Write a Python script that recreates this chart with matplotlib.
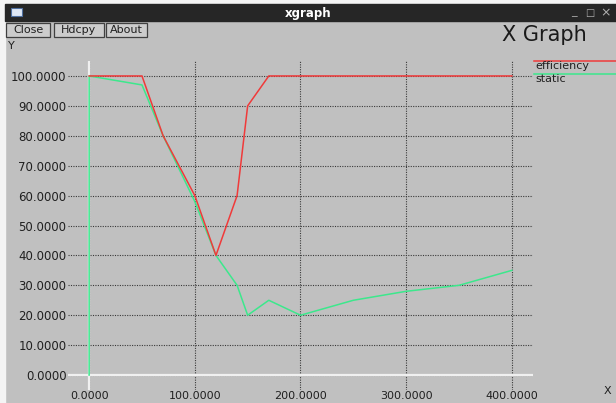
import matplotlib
matplotlib.use('Agg')
import matplotlib.pyplot as plt
from matplotlib.patches import Rectangle
from matplotlib.lines import Line2D

# data
eff_x = [0, 50, 70, 100, 120, 140, 150, 170, 400]
eff_y = [100, 100, 80, 60, 40, 60, 90, 100, 100]
static_x = [0, 0, 50, 70, 100, 120, 140, 150, 170, 200, 250, 300, 350, 400]
static_y = [0, 100, 97, 80, 58, 40, 30, 20, 25, 20, 25, 28, 30, 35]
x_ticks = [0, 100, 200, 300, 400]
y_ticks = [0, 10, 20, 30, 40, 50, 60, 70, 80, 90, 100]
series_names = ['efficiency', 'static']

W, H = 616, 403
BG = '#c0c0c0'
RED = '#f03a3a'
GREEN = '#3ce88c'

def fx(px):
    return px / W

def fy(py):
    return 1 - py / H

fig = plt.figure(figsize=(W / 100, H / 100), dpi=100, facecolor=BG)

# window frame: white margin, dark title bar
fig.patches.append(Rectangle((0, fy(4)), 1, 4 / H, transform=fig.transFigure, color='#f4f4f4', zorder=0))
fig.patches.append(Rectangle((0, 0), fx(5), 1, transform=fig.transFigure, color='#f4f4f4', zorder=0))
fig.patches.append(Rectangle((fx(5), fy(21)), 1, 17 / H, transform=fig.transFigure, color='#262626', zorder=1))
fig.patches.append(Rectangle((fx(11), fy(16)), 11 / W, 8 / H, transform=fig.transFigure,
                             facecolor='#dfe8f5', edgecolor='#5070a0', lw=0.8, zorder=2))
fig.text(fx(308), fy(13), 'xgraph', color='white', fontsize=8.5, fontweight='bold', ha='center', va='center')
fig.text(fx(574), fy(12), '_', color='#b0b0b0', fontsize=8, ha='center', va='center')
fig.text(fx(590), fy(13), '□', color='#b0b0b0', fontsize=7, ha='center', va='center')
fig.text(fx(606), fy(13), '×', color='#b0b0b0', fontsize=9, ha='center', va='center')

# buttons
for label, x0, x1 in [('Close', 6, 50), ('Hdcpy', 54, 104), ('About', 106, 147)]:
    fig.patches.append(Rectangle((fx(x0), fy(37)), (x1 - x0) / W, 14 / H, transform=fig.transFigure,
                                 facecolor='#cccccc', edgecolor='#404040', lw=0.9, zorder=2))
    fig.text(fx((x0 + x1) / 2), fy(30), label, fontsize=8, ha='center', va='center', color='#202020')

fig.text(fx(544), fy(35), 'X Graph', fontsize=15, ha='center', va='center', color='#1a1a1a')
fig.text(fx(8), fy(46), 'Y', fontsize=8, ha='left', va='center', color='#202020')
fig.text(fx(604), fy(391), 'X', fontsize=8, ha='left', va='center', color='#202020')

ax = fig.add_axes([fx(68), fy(390), (533 - 68) / W, (390 - 61) / H])
ax.set_facecolor(BG)
ax.set_xlim(-20, 420)
ax.set_ylim(-5, 105)
for s in ax.spines.values():
    s.set_visible(False)

ax.set_xticks(x_ticks)
ax.set_yticks(y_ticks)
ax.set_xticklabels(['%.4f' % v for v in x_ticks])
ax.set_yticklabels(['%.4f' % v for v in y_ticks])
ax.tick_params(length=0, labelsize=8.5, colors='#202020')
ax.tick_params(axis='y', pad=1)
ax.tick_params(axis='x', pad=0.5, labelsize=8)

ax.grid(True, linestyle=(0, (1, 1.2)), color='#3a3a3a', linewidth=0.8)
ax.set_axisbelow(True)
ax.axhline(0, color='#f0f0f0', lw=1.6, zorder=1.5)
ax.axvline(0, color='#f0f0f0', lw=1.6, zorder=1.5)

ax.plot(eff_x, eff_y, color=RED, lw=1.1, zorder=3)
ax.plot(static_x, static_y, color=GREEN, lw=1.1, zorder=2)

# legend on the right, xgraph style
for name, col, ly in [(series_names[0], RED, 61), (series_names[1], GREEN, 74)]:
    fig.add_artist(Line2D([fx(534), 1], [fy(ly), fy(ly)], transform=fig.transFigure, color=col, lw=1.1))
    fig.text(fx(535), fy(ly + 5), name, fontsize=8, ha='left', va='center', color='#202020')

fig.savefig('out.png', dpi=100, facecolor=BG)
